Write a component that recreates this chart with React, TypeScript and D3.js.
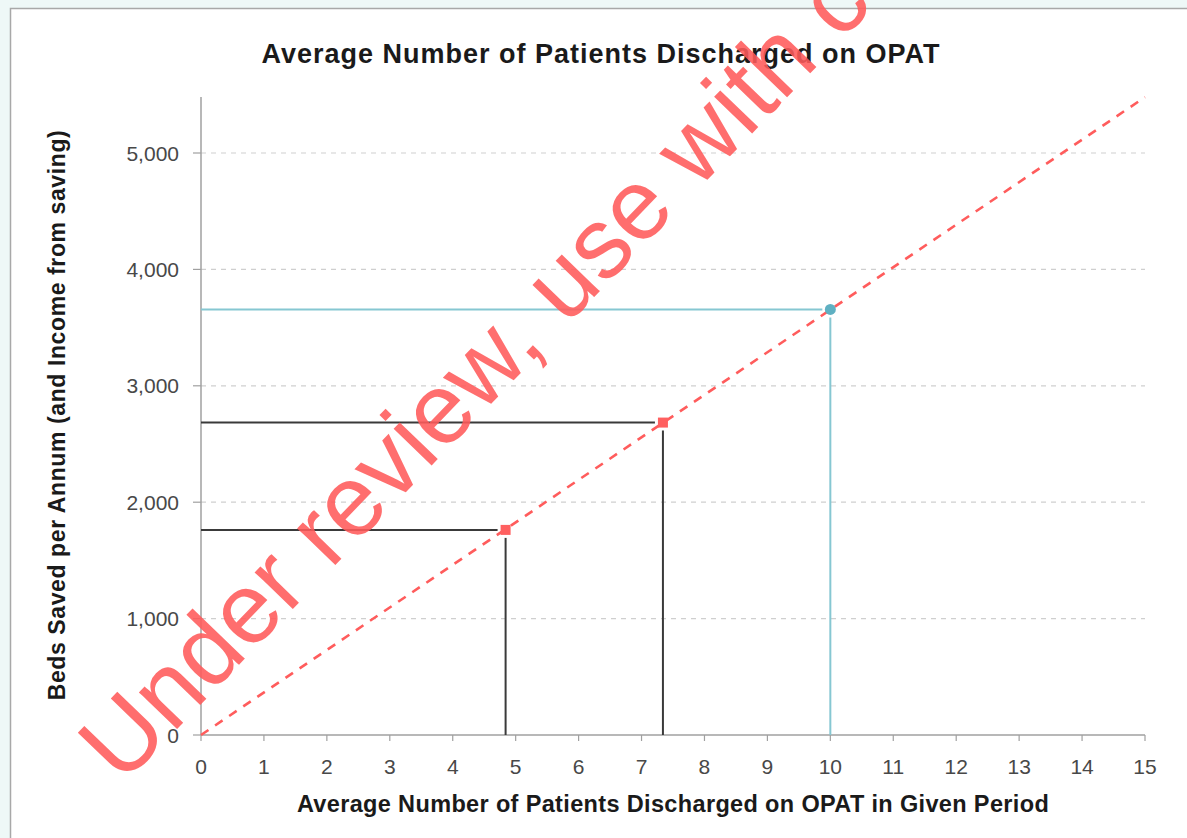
import React from "react";
import * as d3 from "d3";

const title = "Average Number of Patients Discharged on OPAT";
const xLabel = "Average Number of Patients Discharged on OPAT in Given Period";
const yLabel = "Beds Saved per Annum (and Income from saving)";
const watermark = "Under review, use with caution";

const xTicks = [0, 1, 2, 3, 4, 5, 6, 7, 8, 9, 10, 11, 12, 13, 14, 15];
const yTicks = [0, 1000, 2000, 3000, 4000, 5000];
const gridValues = [1000, 2000, 3000, 4000, 5000];

// trend line (dashed red)
const trendX = [0, 15];
const trendY = [0, 5480];

// marked points
const pointX = [4.84, 7.34, 10];
const pointY = [1762, 2684, 3656];
const pointKind = ["square", "square", "circle"];
const guideColor = ["#3a3a3a", "#3a3a3a", "#86c7d2"];
const pointColor = ["#ff6060", "#ff6060", "#5fb0c2"];

const W = 1187;
const H = 838;

export default function App() {
  const x = d3.scaleLinear().domain([0, 15]).range([201, 1145]);
  const y = d3.scaleLinear().domain([0, 5000]).range([735, 153]);
  const fmt = d3.format(",");
  const trend = d3.line<number>()
    .x((d) => x(trendX[d]))
    .y((d) => y(trendY[d]))([0, 1]);
  const gap = 8;

  return (
    <svg
      width={W}
      height={H}
      style={{ position: "absolute", left: 0, top: 0, display: "block" }}
      fontFamily="'Liberation Sans', Arial, sans-serif"
    >
      <rect x={0} y={0} width={W} height={H} fill="#eef8f7" />
      <rect x={10.5} y={8.5} width={W + 10} height={H + 10} fill="#ffffff" stroke="#a8a8a8" strokeWidth={1.5} />

      <text x={601} y={63} textAnchor="middle" fontSize={27} fontWeight="bold" letterSpacing={1} fill="#1a1a1a">
        {title}
      </text>

      {/* gridlines */}
      {gridValues.map((v) => (
        <line key={"g" + v} x1={x(0)} x2={x(15)} y1={y(v)} y2={y(v)} stroke="#cfcfcf" strokeWidth={1.2} strokeDasharray="5,5" />
      ))}

      {/* axes */}
      <line x1={x(0)} x2={x(0)} y1={97} y2={y(0)} stroke="#a0a0a0" strokeWidth={1.5} />
      <line x1={x(0)} x2={x(15)} y1={y(0)} y2={y(0)} stroke="#a0a0a0" strokeWidth={1.5} />
      {yTicks.map((v) => (
        <g key={"yt" + v}>
          <line x1={x(0) - 8} x2={x(0)} y1={y(v)} y2={y(v)} stroke="#a0a0a0" strokeWidth={1.2} />
          <text x={179} y={y(v)} dy="0.36em" textAnchor="end" fontSize={21} fill="#484848">
            {fmt(v)}
          </text>
        </g>
      ))}
      {xTicks.map((v) => (
        <g key={"xt" + v}>
          <line x1={x(v)} x2={x(v)} y1={y(0)} y2={y(0) + 6} stroke="#a0a0a0" strokeWidth={1.2} />
          <text x={x(v)} y={774} textAnchor="middle" fontSize={21} fill="#484848">
            {v}
          </text>
        </g>
      ))}

      <text x={673} y={812} textAnchor="middle" fontSize={23.5} fontWeight="bold" letterSpacing={0.35} fill="#1a1a1a">
        {xLabel}
      </text>
      <text
        transform={`translate(65,415) rotate(-90)`}
        textAnchor="middle"
        fontSize={23}
        fontWeight="bold"
        letterSpacing={0.6}
        fill="#1a1a1a"
      >
        {yLabel}
      </text>

      {/* guide lines */}
      {pointX.map((px, i) => (
        <g key={"gl" + i}>
          <line x1={x(0)} x2={x(px) - gap} y1={y(pointY[i])} y2={y(pointY[i])} stroke={guideColor[i]} strokeWidth={2} />
          <line x1={x(px)} x2={x(px)} y1={y(pointY[i]) + gap} y2={y(0)} stroke={guideColor[i]} strokeWidth={2} />
        </g>
      ))}

      {/* trend */}
      <path d={trend || ""} fill="none" stroke="#ff5c5c" strokeWidth={2.6} strokeDasharray="9,8" />

      {/* points */}
      {pointX.map((px, i) =>
        pointKind[i] === "square" ? (
          <rect key={"p" + i} x={x(px) - 5} y={y(pointY[i]) - 5} width={10} height={10} fill={pointColor[i]} />
        ) : (
          <circle key={"p" + i} cx={x(px)} cy={y(pointY[i])} r={5.5} fill={pointColor[i]} />
        )
      )}

      {/* watermark */}
      <text
        transform={`translate(122,786) rotate(-46)`}
        fontSize={100}
        fill="#ff5a5a"
        fillOpacity={0.88}
      >
        {watermark}
      </text>
    </svg>
  );
}
